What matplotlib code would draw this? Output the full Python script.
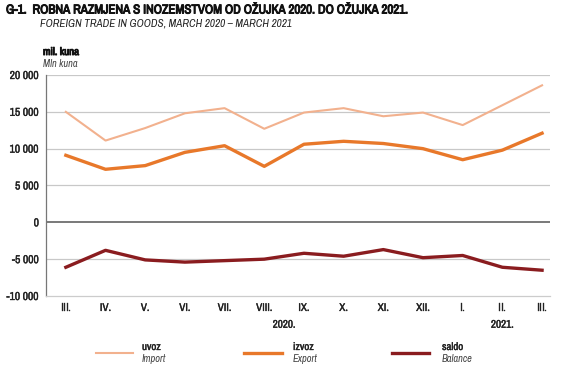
import matplotlib
matplotlib.use("Agg")
import matplotlib.pyplot as plt
from matplotlib.lines import Line2D
import matplotlib.patheffects as pe
import matplotlib.font_manager as fm

months = ["III.", "IV.", "V.", "VI.", "VII.", "VIII.", "IX.", "X.", "XI.", "XII.", "I.", "II.", "III."]
uvoz = [15000, 11100, 12800, 14800, 15500, 12700, 14900, 15500, 14400, 14900, 13200, 15900, 18600]
izvoz = [9100, 7200, 7700, 9500, 10400, 7600, 10600, 11000, 10700, 10000, 8500, 9800, 12100]
saldo = [-6100, -3800, -5100, -5400, -5200, -5000, -4200, -4600, -3700, -4800, -4500, -6100, -6500]
yticks = [-10000, -5000, 0, 5000, 10000, 15000, 20000]
ytick_labels = ["-10 000", "-5 000", "0", "5 000", "10 000", "15 000", "20 000"]
years = [("2020.", 5.5), ("2021.", 11)]

c_uvoz = "#f2b18e"
c_izvoz = "#e8782a"
c_saldo = "#8a1c1f"

names = sorted({f.name for f in fm.fontManager.ttflist})
narrow = [n for n in names if "Narrow" in n or "Condensed" in n]
FAM = narrow + ["DejaVu Sans"] if narrow else ["DejaVu Sans"]
plt.rcParams["font.family"] = FAM
plt.rcParams["font.stretch"] = "condensed"

BOLD = [pe.withStroke(linewidth=0.7, foreground="#111111")]
SEMI = [pe.withStroke(linewidth=0.25, foreground="#222222")]

fig = plt.figure(figsize=(5.73, 3.66), dpi=100)
ax = fig.add_axes([46/573, 1-296/366, (550-46)/573, (296-75)/366])

x = list(range(len(months)))
for v in yticks:
    if v == 0:
        ax.axhline(0, color="#555555", lw=1.1, zorder=2)
    elif v != -10000:
        ax.axhline(v, color="#c8c8c8", lw=0.9, zorder=1)
ax.plot(x, uvoz, color=c_uvoz, lw=1.5, zorder=3)
ax.plot(x, izvoz, color=c_izvoz, lw=2.4, zorder=3)
ax.plot(x, saldo, color=c_saldo, lw=2.4, zorder=3)

ax.set_xlim(-0.5, 12.2)
ax.set_ylim(-10000, 20000)
ax.set_yticks(yticks)
ax.set_yticklabels(ytick_labels, fontsize=8.3, color="#222222")
ax.set_xticks(x)
ax.set_xticklabels(months, fontsize=8, color="#222222")
ax.tick_params(axis="both", length=0, pad=5)
for t in ax.get_yticklabels() + ax.get_xticklabels():
    t.set_path_effects(SEMI)
for s in ["top", "right"]:
    ax.spines[s].set_visible(False)
ax.spines["left"].set_color("#777777")
ax.spines["left"].set_linewidth(0.9)
ax.spines["bottom"].set_color("#cccccc")
ax.spines["bottom"].set_linewidth(0.9)

for lab, xp in years:
    ax.text(xp, -0.13, lab, transform=ax.get_xaxis_transform(), ha="center", va="center",
            fontsize=8, color="#222222", path_effects=SEMI)

fig.text(6/573, 1-10/366, "G-1.  ROBNA RAZMJENA S INOZEMSTVOM OD OŽUJKA 2020. DO OŽUJKA 2021.",
         fontsize=9.3, fontweight="bold", va="center", ha="left", color="#111111", path_effects=BOLD)
fig.text(40/573, 1-23/366, "FOREIGN TRADE IN GOODS, MARCH 2020 – MARCH 2021",
         fontsize=8, style="italic", va="center", ha="left", color="#222222")
fig.text(43/573, 1-52/366, "mil. kuna", fontsize=7.8, fontweight="bold", va="center", ha="left",
         color="#111111", path_effects=BOLD)
fig.text(43/573, 1-64/366, "Mln kuna", fontsize=7.5, style="italic", color="#444444", va="center", ha="left")

legend_items = [
    (96, 133, 142, c_uvoz, 1.5, "uvoz", "Import"),
    (244, 282, 293, c_izvoz, 2.4, "izvoz", "Export"),
    (392, 429, 442, c_saldo, 2.4, "saldo", "Balance"),
]
for x0, x1, xt, col, lw, l1, l2 in legend_items:
    fig.add_artist(Line2D([x0/573, x1/573], [1-353/366, 1-353/366], color=col, lw=lw,
                          transform=fig.transFigure))
    fig.text(xt/573, 1-347/366, l1, fontsize=7.8, va="center", ha="left", color="#222222",
             path_effects=SEMI)
    fig.text(xt/573, 1-359/366, l2, fontsize=7.5, style="italic", color="#444444", va="center", ha="left")

fig.savefig("out.png", dpi=100)
